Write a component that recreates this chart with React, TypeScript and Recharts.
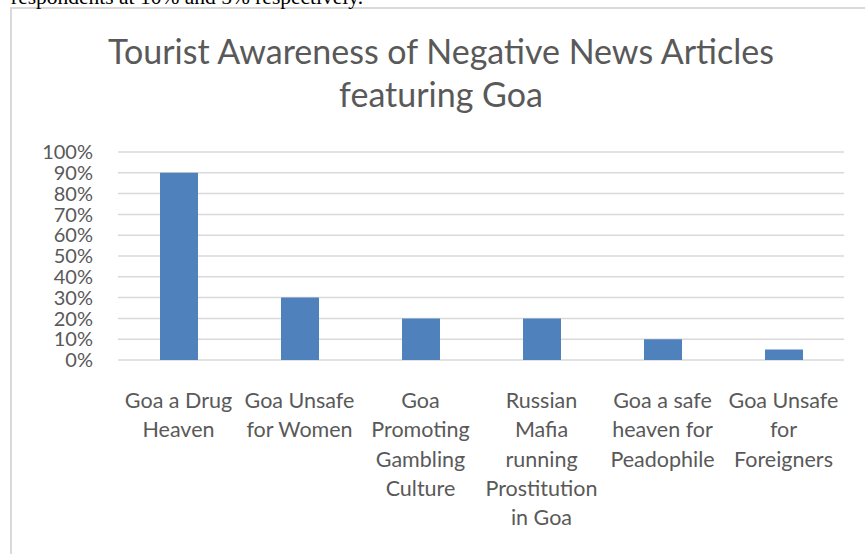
import React from 'react';
import { BarChart, Bar, XAxis, YAxis, CartesianGrid } from 'recharts';

const categories = [
  'Goa a Drug\nHeaven',
  'Goa Unsafe\nfor Women',
  'Goa\nPromoting\nGambling\nCulture',
  'Russian\nMafia\nrunning\nProstitution\nin Goa',
  'Goa a safe\nheaven for\nPeadophile',
  'Goa Unsafe\nfor\nForeigners',
];
const awareness = [0.9, 0.3, 0.2, 0.2, 0.1, 0.05];
const yTicks = [0, 0.1, 0.2, 0.3, 0.4, 0.5, 0.6, 0.7, 0.8, 0.9, 1.0];
const titleLines = ['Tourist Awareness of Negative News Articles', 'featuring Goa'];
const aboveText = 'respondents at 10% and 5% respectively.';

const data = categories.map((c, i) => ({ name: c, value: awareness[i] }));

const FONT = 'Lato, "Open Sans", sans-serif';
const GREY = '#595959';

const XTick = (props: any) => {
  const { x, y, payload } = props;
  const lines = String(payload.value).split('\n');
  return (
    <g>
      {lines.map((l: string, i: number) => (
        <text
          key={i}
          x={x}
          y={y + 48 + i * 29.3}
          textAnchor="middle"
          fontFamily={FONT}
          fontSize={21.5}
          fill={GREY}
        >
          {l}
        </text>
      ))}
    </g>
  );
};

export default function App() {
  return (
    <div
      style={{
        position: 'absolute',
        left: 0,
        top: 0,
        width: 865,
        height: 554,
        overflow: 'hidden',
        background: '#fff',
      }}
    >
      <div
        style={{
          position: 'absolute',
          left: 10,
          top: 7,
          width: 900,
          height: 600,
          borderLeft: '2px solid #d9d9d9',
          borderTop: '2px solid #d9d9d9',
        }}
      />
      <svg width={865} height={554} style={{ position: 'absolute', left: 0, top: 0 }}>
        <text x={11} y={4} fontFamily='"Liberation Serif", "Times New Roman", serif' fontSize={21.5} fill="#000">
          {aboveText}
        </text>
        {titleLines.map((t, i) => (
          <text
            key={i}
            x={441}
            y={64 + i * 43}
            textAnchor="middle"
            fontFamily={FONT}
            fontSize={34}
            fill={GREY}
          >
            {t}
          </text>
        ))}
      </svg>
      <div style={{ position: 'absolute', left: 0, top: 0 }}>
        <BarChart
          width={865}
          height={554}
          data={data}
          margin={{ top: 152, right: 21, bottom: 0, left: 0 }}
        >
          <CartesianGrid vertical={false} stroke="#d9d9d9" strokeWidth={1.5} />
          <XAxis
            dataKey="name"
            axisLine={false}
            tickLine={false}
            tickSize={0}
            tickMargin={0}
            height={194}
            interval={0}
            tick={<XTick />}
          />
          <YAxis
            width={118}
            domain={[0, 1]}
            ticks={yTicks}
            axisLine={false}
            tickLine={false}
            tickSize={0}
            tickMargin={25}
            interval={0}
            tickFormatter={(v: number) => `${Math.round(v * 100)}%`}
            tick={{ fontFamily: FONT, fontSize: 20, fill: GREY }}
          />
          <Bar dataKey="value" fill="#4f81bd" barSize={38} isAnimationActive={false} />
        </BarChart>
      </div>
    </div>
  );
}
